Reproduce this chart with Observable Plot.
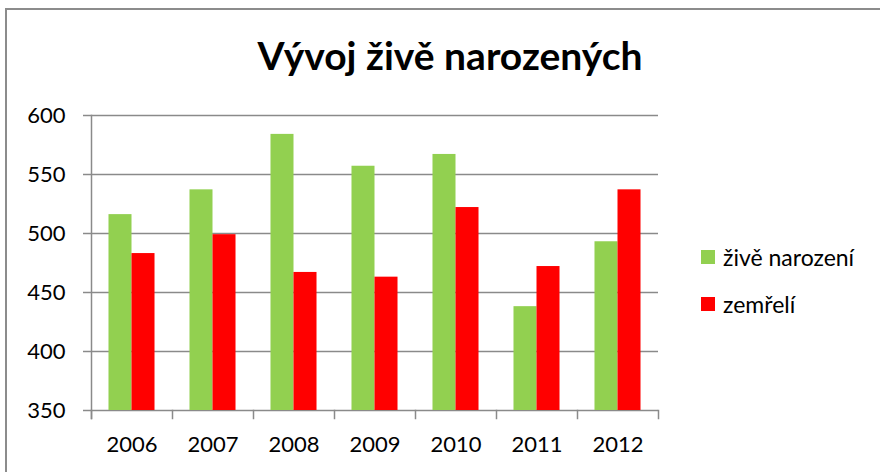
<!DOCTYPE html>
<html>
<head>
<meta charset="utf-8">
<script src="https://cdn.jsdelivr.net/npm/d3@7"></script>
<script src="https://cdn.jsdelivr.net/npm/@observablehq/plot@0.6"></script>
<style>
  html, body { margin: 0; padding: 0; background: #fff; }
  #wrap { position: relative; width: 880px; height: 472px; overflow: hidden; font-family: Lato, "Open Sans", sans-serif; }
  #border { position: absolute; left: 5px; top: 8px; width: 900px; height: 500px; border: 2px solid #8c8c8c; box-sizing: border-box; }
  #title { position: absolute; left: 0; width: 900px; top: 36px; text-align: center; font-weight: bold; font-size: 39px; line-height: 1; color: #000; }
  #chart { position: absolute; left: 0; top: 0; }
  #legend { position: absolute; left: 701px; top: 244px; font-size: 23px; color: #000; }
  .item { display: flex; align-items: center; height: 26px; margin-bottom: 21px; }
  .sw { width: 14px; height: 14px; margin-right: 8px; }
</style>
</head>
<body>
<div id="wrap">
  <div id="border"></div>
  <div id="chart"></div>
  <div id="title">Vývoj živě narozených</div>
  <div id="legend"></div>
</div>
<script>
const years = ["2006", "2007", "2008", "2009", "2010", "2011", "2012"];
const liveBirths = [516, 537, 584, 557, 567, 438, 493];
const deaths = [483, 499, 467, 463, 522, 472, 537];
const seriesNames = ["živě narození", "zemřelí"];
const seriesColors = ["#92D050", "#FF0000"];
const yTicks = [350, 400, 450, 500, 550, 600];
const yMin = 350, yMax = 600;

const data = [];
years.forEach((y, i) => {
  data.push({year: y, series: seriesNames[0], value: liveBirths[i]});
  data.push({year: y, series: seriesNames[1], value: deaths[i]});
});

const grey = "#8a8a8a";

const chart = Plot.plot({
  width: 880,
  height: 472,
  marginTop: 115,
  marginBottom: 62,
  marginLeft: 91,
  marginRight: 222,
  style: {fontFamily: "Lato, 'Open Sans', sans-serif", fontSize: "22px", color: "#000", background: "transparent"},
  fx: {domain: years, padding: 0, round: false},
  x: {domain: seriesNames, paddingInner: 0, paddingOuter: 0.76, round: false, axis: null},
  y: {domain: [yMin, yMax], ticks: yTicks},
  color: {domain: seriesNames, range: seriesColors},
  marks: [
    Plot.gridY(yTicks, {stroke: grey, strokeOpacity: 1, strokeWidth: 1.5}),
    Plot.barY(data, {fx: "year", x: "series", y1: yMin, y2: "value", fill: "series"}),
    Plot.frame({anchor: "left", facetAnchor: "left", stroke: grey, strokeWidth: 1.5, insetBottom: -8}),
    Plot.frame({anchor: "left", stroke: grey, strokeWidth: 1.5, insetTop: 295, insetBottom: -8}),
    Plot.frame({anchor: "right", facetAnchor: "right", stroke: grey, strokeWidth: 1.5, insetTop: 295, insetBottom: -8}),
    Plot.axisY(yTicks, {tickSize: 8, tickPadding: 18, stroke: grey, strokeWidth: 1.5, fontSize: 22, label: null}),
    Plot.axisFx({anchor: "bottom", tickSize: 0, tickPadding: 26, fontSize: 22, label: null})
  ]
});
document.getElementById("chart").appendChild(chart);

const legend = document.getElementById("legend");
seriesNames.forEach((name, i) => {
  const item = document.createElement("div");
  item.className = "item";
  const sw = document.createElement("span");
  sw.className = "sw";
  sw.style.background = seriesColors[i];
  const label = document.createElement("span");
  label.textContent = name;
  item.appendChild(sw);
  item.appendChild(label);
  legend.appendChild(item);
});
</script>
</body>
</html>
